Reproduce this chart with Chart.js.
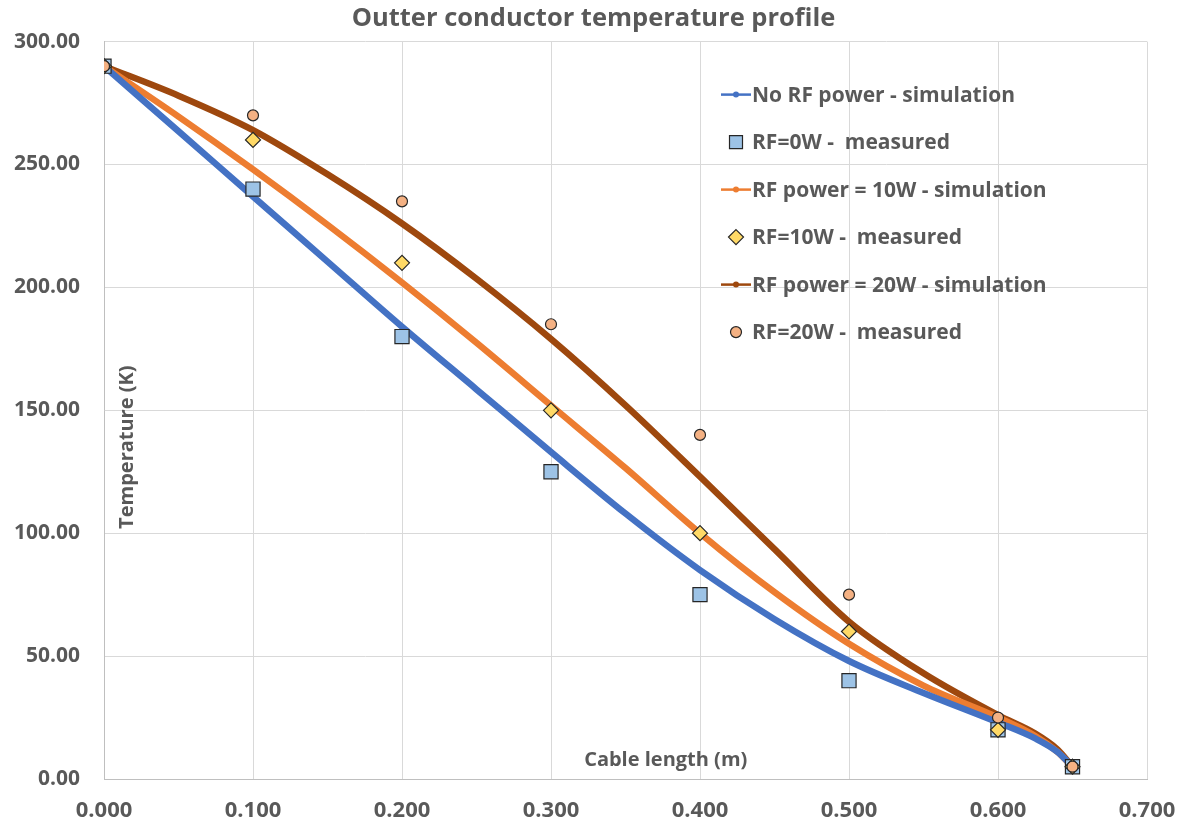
<!DOCTYPE html>
<html>
<head>
<meta charset="utf-8">
<title>Outter conductor temperature profile</title>
<script src="https://cdn.jsdelivr.net/npm/chart.js@4.4.1/dist/chart.umd.min.js"></script>
<style>
    html, body { margin: 0; padding: 0; background: #ffffff; }
    #wrap { width: 1187px; height: 825px; }
</style>
</head>
<body>
<div id="wrap"><canvas id="chart" width="1187" height="825"></canvas></div>
<script>
// Datos
const simX = [0, 0.05, 0.1, 0.15, 0.2, 0.25, 0.3, 0.35, 0.4, 0.45, 0.5, 0.55, 0.6, 0.625, 0.64, 0.65];
const simNoRF = [290, 263.5, 237, 210.5, 184, 158.5, 133, 108, 85, 65, 48, 35, 23, 16.5, 11, 5];
const sim10W = [290, 269.5, 248, 225.5, 202, 177.5, 152, 126.5, 100, 76, 55, 38, 25, 17.5, 11, 5];
const sim20W = [290, 278, 264, 246, 226, 203.5, 179, 152, 123, 93.5, 64, 43, 26, 18.5, 12, 5];

const measX = [0, 0.1, 0.2, 0.3, 0.4, 0.5, 0.6, 0.65];
const meas0W = [290, 240, 180, 125, 75, 40, 20, 5];
const meas10W = [290, 260, 210, 150, 100, 60, 20, 5];
const meas20W = [290, 270, 235, 185, 140, 75, 25, 5];

const xTicks = [0, 0.1, 0.2, 0.3, 0.4, 0.5, 0.6, 0.7];
const yTicks = [0, 50, 100, 150, 200, 250, 300];

const chartTitle = 'Outter conductor temperature profile';
const xTitle = 'Cable length (m)';
const yTitle = 'Temperature (K)';

const textColor = '#595959';
const fontFamily = '"Open Sans", "DejaVu Sans", sans-serif';

function toPoints(xs, ys) {
    return xs.map((x, i) => ({ x: x, y: ys[i] }));
}

function simDataset(label, values, color) {
    return {
        type: 'line',
        label: label,
        data: toPoints(simX, values),
        borderColor: color,
        backgroundColor: color,
        borderWidth: 6.5,
        pointRadius: 0,
        cubicInterpolationMode: 'monotone',
        fill: false,
        order: 3
    };
}

// order: el número más bajo queda encima
function measDataset(label, values, fill, style, radius, order) {
    return {
        type: 'scatter',
        label: label,
        data: toPoints(measX, values),
        backgroundColor: fill,
        borderColor: '#262626',
        borderWidth: 1.2,
        pointStyle: style,
        pointRadius: radius,
        order: order
    };
}

// Símbolos de la leyenda
function drawSymbol(ctx, ds, x, y) {
    ctx.save();
    if (ds.type === 'line') {
        ctx.strokeStyle = ds.borderColor;
        ctx.lineWidth = 2.5;
        ctx.beginPath();
        ctx.moveTo(x - 15, y);
        ctx.lineTo(x + 15, y);
        ctx.stroke();
        ctx.fillStyle = ds.borderColor;
        ctx.beginPath();
        ctx.arc(x, y, 3, 0, Math.PI * 2);
        ctx.fill();
    } else {
        ctx.fillStyle = ds.backgroundColor;
        ctx.strokeStyle = ds.borderColor;
        ctx.lineWidth = 1.2;
        ctx.beginPath();
        if (ds.pointStyle === 'rect') {
            ctx.rect(x - 6.5, y - 6.5, 13, 13);
        } else if (ds.pointStyle === 'rectRot') {
            ctx.moveTo(x, y - 7.5);
            ctx.lineTo(x + 7.5, y);
            ctx.lineTo(x, y + 7.5);
            ctx.lineTo(x - 7.5, y);
            ctx.closePath();
        } else {
            ctx.arc(x, y, 5.5, 0, Math.PI * 2);
        }
        ctx.fill();
        ctx.stroke();
    }
    ctx.restore();
}

// Títulos de ejes y leyenda dentro del área del gráfico
const overlayText = {
    id: 'overlayText',
    afterDatasetsDraw(chart) {
        const { ctx, chartArea, scales } = chart;
        ctx.save();
        ctx.fillStyle = textColor;
        ctx.font = 'bold 20px ' + fontFamily;
        ctx.textAlign = 'center';
        ctx.textBaseline = 'middle';
        ctx.fillText(xTitle, scales.x.getPixelForValue(0.377), chartArea.bottom - 19);
        ctx.translate(chartArea.left + 23, scales.y.getPixelForValue(135));
        ctx.rotate(-Math.PI / 2);
        ctx.fillText(yTitle, 0, 0);
        ctx.restore();

        ctx.save();
        ctx.font = 'bold 21px ' + fontFamily;
        ctx.fillStyle = textColor;
        ctx.textAlign = 'left';
        ctx.textBaseline = 'middle';
        const symX = chartArea.left + 632;
        const textX = chartArea.left + 648;
        chart.data.datasets.forEach((ds, i) => {
            const y = chartArea.top + 53 + i * 47.5;
            drawSymbol(ctx, ds, symX, y);
            ctx.fillText(ds.label, textX, y + 1);
        });
        ctx.restore();
    }
};

const ctx = document.getElementById('chart');

new Chart(ctx, {
    data: {
        datasets: [
            simDataset('No RF power - simulation', simNoRF, '#4472C4'),
            measDataset('RF=0W -  measured', meas0W, '#9DC3E6', 'rect', 10, 2),
            simDataset('RF power = 10W - simulation', sim10W, '#ED7D31'),
            measDataset('RF=10W -  measured', meas10W, '#FFD966', 'rectRot', 7.5, 1),
            simDataset('RF power = 20W - simulation', sim20W, '#9E480E'),
            measDataset('RF=20W -  measured', meas20W, '#F4B183', 'circle', 5.5, 0)
        ]
    },
    options: {
        responsive: false,
        animation: false,
        layout: { padding: 0 },
        plugins: {
            legend: { display: false },
            tooltip: { enabled: false },
            title: {
                display: true,
                text: chartTitle,
                color: textColor,
                font: { family: fontFamily, size: 25.5, weight: 'bold' },
                padding: { top: 3, bottom: 8 }
            }
        },
        scales: {
            x: {
                type: 'linear',
                min: 0,
                max: 0.7,
                afterBuildTicks: scale => { scale.ticks = xTicks.map(v => ({ value: v })); },
                afterFit: scale => {
                    scale.height = 46;
                    scale.paddingLeft = 0;
                    scale.paddingRight = 40;
                },
                ticks: {
                    color: textColor,
                    font: { family: fontFamily, size: 22, weight: 'bold' },
                    padding: 19,
                    maxRotation: 0,
                    callback: v => Number(v).toFixed(3)
                },
                grid: { color: '#D9D9D9', drawTicks: false },
                border: { color: '#BFBFBF' }
            },
            y: {
                type: 'linear',
                min: 0,
                max: 300,
                afterBuildTicks: scale => { scale.ticks = yTicks.map(v => ({ value: v })); },
                afterFit: scale => { scale.width = 104; },
                ticks: {
                    color: textColor,
                    font: { family: fontFamily, size: 21, weight: 'bold' },
                    padding: 24,
                    callback: v => Number(v).toFixed(2)
                },
                grid: { color: '#D9D9D9', drawTicks: false },
                border: { color: '#BFBFBF' }
            }
        }
    },
    plugins: [overlayText]
});
</script>
</body>
</html>
